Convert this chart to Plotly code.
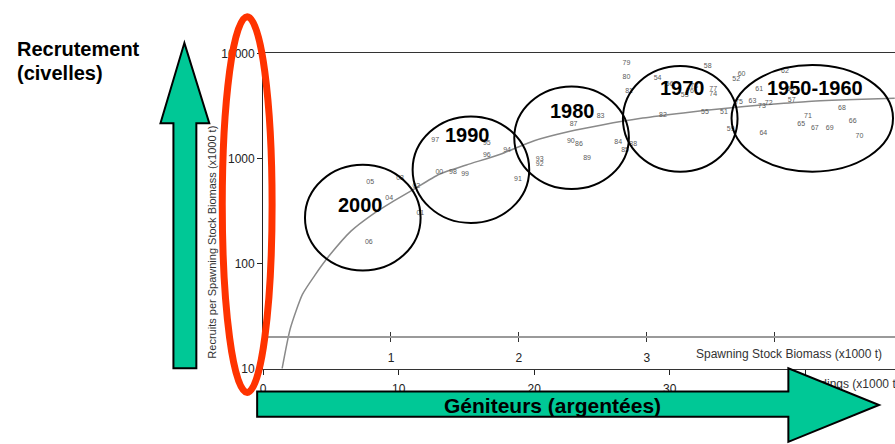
import plotly.graph_objects as go

W, H = 895, 444
FONT = "Liberation Sans, Arial, sans-serif"

# Year labels (two-digit) with landings (x1000 t) and recruits per SSB
years = ["05", "03", "04", "02", "01", "06", "00", "98", "99", "97", "95", "96", "94",
         "91", "93", "92", "90", "86", "87", "83", "89", "84", "88", "85", "81", "80",
         "79", "54", "58", "52", "60", "77", "74", "82", "55", "51", "75", "59", "56",
         "53", "76", "78", "50", "62", "61", "63", "73", "72", "57", "71", "68", "65",
         "67", "69", "66", "70", "64"]
landings = [7.9, 10.1, 9.3, 11.3, 11.6, 7.8, 13.0, 14.0, 14.9, 12.7, 16.5, 16.5, 18.0,
            18.8, 20.4, 20.4, 22.7, 23.3, 22.9, 24.9, 23.9, 26.2, 27.3, 26.7, 27.0, 26.8,
            26.8, 29.1, 32.8, 34.9, 35.3, 33.2, 33.2, 29.5, 32.6, 34.0, 35.1, 34.5, 30.0,
            31.1, 31.5, 31.8, 38.9, 38.5, 36.6, 36.1, 36.8, 37.3, 39.0, 40.2, 42.7, 39.7,
            40.7, 41.8, 43.5, 44.0, 36.9]
recruits = [600, 655, 420, 540, 300, 160, 740, 740, 710, 1500, 1400, 1070, 1190,
            630, 980, 880, 1470, 1380, 2100, 2550, 1000, 1440, 1380, 1190, 4330, 5950,
            8000, 5820, 7500, 5700, 6340, 4610, 4060, 2600, 2770, 2770, 3430, 1890, 5130,
            3970, 4330, 4910, 4610, 6750, 4610, 3500, 3150, 3350, 3570, 2550, 3010, 2100,
            1930, 1930, 2290, 1630, 1740]

# Fitted stock-recruitment relationship
fit_landings = [1.4, 2.0, 2.9, 3.8, 4.9, 6.5, 8.0, 9.5, 11.0, 13.0, 15.0, 17.5, 20.0,
                22.5, 25.0, 28.0, 31.0, 34.0, 37.0, 40.0, 43.0, 46.6]
fit_recruits = [10, 24, 51, 77, 120, 205, 290, 385, 500, 710, 870, 1100, 1480,
                1800, 2090, 2430, 2720, 3000, 3250, 3480, 3620, 3750]

# Axis ticks
landing_ticks = [0, 10, 20, 30, 40]
ssb_ticks = [1, 2, 3, 4]
ssb_ticktext = ["1", "2", "3", ""]
recruit_ticks = [10, 100, 1000, 10000]
recruit_ticktext = ["10", "100", "1000", "10000"]

# Decade groupings: label and bounding box (pixels)
decades = ["2000", "1990", "1980", "1970", "1950-1960"]
decade_boxes = [(303, 163, 419, 272), (411, 113, 528, 223), (513, 82, 628, 188),
                (622, 61, 737, 170), (731, 60, 893, 170)]
decade_label_pos = [(359, 204), (466, 132), (571, 107), (682, 84), (815, 84)]

# plot-area geometry (pixels)
X_LEFT, Y_TOP, Y_BOTTOM = 261, 48, 373.5
PX_PER_LANDING = 13.6
PX_PER_SSB = 128.3


def px(x):
    return x / W


def py(y):
    return 1 - y / H


def path(points):
    return "M " + " L ".join(f"{px(x):.5f},{py(y):.5f}" for x, y in points) + " Z"


fig = go.Figure()

fig.add_trace(go.Scatter(
    x=fit_landings, y=fit_recruits, mode="lines",
    line=dict(color="#8a8a8a", width=1.5, shape="spline", smoothing=0.6),
    hoverinfo="skip"))

fig.add_trace(go.Scatter(
    x=landings, y=recruits, mode="text", text=years,
    textfont=dict(family=FONT, size=7, color="#5a5a5a"),
    hoverinfo="skip"))

# bottom axis title on a full-figure pixel overlay, so the arrow is drawn over it
fig.add_trace(go.Scatter(
    x=[800], y=[390], xaxis="x4", yaxis="y4", mode="text",
    text=["Landings (x1000 t)"], textposition="middle right", cliponaxis=False,
    textfont=dict(family=FONT, size=12, color="#333"), hoverinfo="skip"))

# empty traces so the secondary axes are drawn
fig.add_trace(go.Scatter(x=[], y=[], xaxis="x2", yaxis="y"))
fig.add_trace(go.Scatter(x=[], y=[], xaxis="x3", yaxis="y"))

x_dom = [px(X_LEFT), 1]
x_range = [0, (W - X_LEFT) / PX_PER_LANDING]
ssb_range = [0, (W - X_LEFT) / PX_PER_SSB]
ssb_pos = py(341)

fig.update_layout(
    width=W, height=H,
    margin=dict(l=0, r=0, t=0, b=0, pad=0),
    paper_bgcolor="white", plot_bgcolor="rgba(0,0,0,0)",
    showlegend=False,
    font=dict(family=FONT, size=12, color="#222222"),
    xaxis=dict(
        domain=x_dom, range=x_range, tickvals=landing_ticks,
        ticks="outside", ticklen=5, tickcolor="#222", showgrid=False, zeroline=False,
        showline=True, linecolor="#333", linewidth=1, mirror=True, ticklabelstandoff=4,
        tickfont=dict(size=12, color="#222")),
    yaxis=dict(
        domain=[py(Y_BOTTOM), py(Y_TOP)], type="log", range=[1, 4],
        tickvals=recruit_ticks, ticktext=recruit_ticktext,
        ticks="outside", ticklen=5, tickcolor="#222", showgrid=False, zeroline=False,
        showline=True, linecolor="#222", linewidth=1,
        tickfont=dict(size=12, color="#222")),
    xaxis2=dict(
        overlaying="x", anchor="free", position=ssb_pos, side="bottom",
        range=ssb_range, tickvals=ssb_ticks, ticktext=ssb_ticktext,
        ticks="inside", ticklen=4, tickcolor="#333", showgrid=False, zeroline=False,
        showline=True, linecolor="#9a9a9a", linewidth=1.5, ticklabelstandoff=10,
        tickfont=dict(size=12, color="#222")),
    xaxis3=dict(
        overlaying="x", anchor="free", position=ssb_pos, side="bottom",
        range=ssb_range, tickvals=ssb_ticks, showticklabels=False,
        ticks="outside", ticklen=4, tickcolor="#333", showgrid=False, zeroline=False,
        showline=False),
    xaxis4=dict(domain=[0, 1], range=[0, W], anchor="y4", visible=False, fixedrange=True),
    yaxis4=dict(domain=[0, 1], range=[H, 0], anchor="x4", visible=False, fixedrange=True),
)

shapes = []
for (x0, y0, x1, y1) in decade_boxes:
    shapes.append(dict(type="circle", xref="paper", yref="paper",
                       x0=px(x0), x1=px(x1), y0=py(y1), y1=py(y0),
                       line=dict(color="black", width=2), layer="above"))

# vertical arrow (recruitment)
shapes.append(dict(type="path", xref="paper", yref="paper", layer="above",
                   path=path([(171, 373), (171, 120), (158, 120), (182, 37),
                              (207, 120), (194, 120), (194, 373)]),
                   fillcolor="#00C896", line=dict(color="black", width=2)))
# horizontal arrow (spawners)
shapes.append(dict(type="path", xref="paper", yref="paper", layer="above",
                   path=path([(255, 397), (788, 397), (788, 373), (879, 411),
                              (788, 449), (788, 423), (255, 423)]),
                   fillcolor="#00C896", line=dict(color="black", width=2)))
# highlight around the recruitment axis
shapes.append(dict(type="circle", xref="paper", yref="paper", layer="above",
                   x0=px(220), x1=px(270), y0=py(398), y1=py(10),
                   line=dict(color="#FF3300", width=7)))
fig.update_layout(shapes=shapes)

ann = []
for label, (x, y) in zip(decades, decade_label_pos):
    ann.append(dict(x=px(x), y=py(y), xref="paper", yref="paper", showarrow=False,
                    text=f"<b>{label}</b>", font=dict(family=FONT, size=20, color="black"),
                    xanchor="center", yanchor="middle"))

for text, y in [("<b>Recrutement</b>", 43), ("<b>(civelles)</b>", 68)]:
    ann.append(dict(x=px(12), y=py(y), xref="paper", yref="paper", showarrow=False,
                    text=text, xanchor="left", yanchor="middle",
                    font=dict(family=FONT, size=20, color="black")))

ann += [
    dict(x=px(551), y=py(411), xref="paper", yref="paper", showarrow=False,
         text="<b>Géniteurs (argentées)</b>", xanchor="center", yanchor="middle",
         font=dict(family=FONT, size=21, color="black")),
    dict(x=px(693), y=py(358), xref="paper", yref="paper", showarrow=False,
         text="Spawning Stock Biomass (x1000 t)", xanchor="left", yanchor="middle",
         font=dict(family=FONT, size=12, color="#333")),
    dict(x=px(210), y=py(243), xref="paper", yref="paper", showarrow=False,
         text="Recruits per Spawning Stock Biomass (x1000 t)", textangle=-90,
         xanchor="center", yanchor="middle",
         font=dict(family=FONT, size=11, color="#333")),
]
fig.update_layout(annotations=ann)

fig.write_html("out.html")
